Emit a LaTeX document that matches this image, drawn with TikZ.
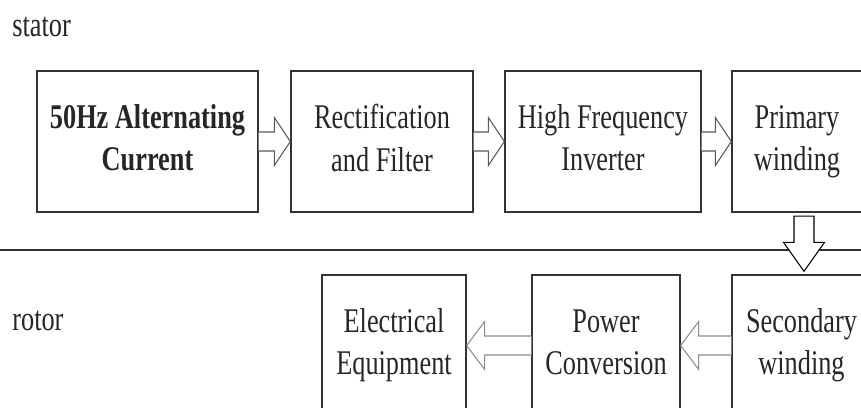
\documentclass[tikz,border=0pt]{standalone}
\usepackage{fontspec}
\setmainfont[FakeStretch=0.76]{Liberation Serif}
\usetikzlibrary{calc}

% hollow block arrows between boxes
\newcommand{\rarrow}[2]{%
  \draw[hollow] ($(#1.east)+(0,-9.5)$) -- ($(#2.west)+(-16,-9.5)$) -- ($(#2.west)+(-16,-24)$)
    -- (#2.west) -- ($(#2.west)+(-16,24)$) -- ($(#2.west)+(-16,9.5)$) -- ($(#1.east)+(0,9.5)$);}
\newcommand{\larrow}[2]{%
  \draw[hollow, draw=black!45] ($(#1.west)+(0,-9.5)$) -- ($(#2.east)+(18,-9.5)$) -- ($(#2.east)+(18,-24)$)
    -- (#2.east) -- ($(#2.east)+(18,24)$) -- ($(#2.east)+(18,9.5)$) -- ($(#1.west)+(0,9.5)$);}

\begin{document}
\begin{tikzpicture}[x=0.02cm, y=-0.02cm,
    block/.style={draw=black!80, text=black!85, line width=0.8pt, minimum height=2.82cm, align=center, inner sep=0pt,
      font=\fontsize{19.7}{24}\selectfont, execute at end node=\vphantom{g}},
    tag/.style={anchor=base west, inner sep=0pt, text=black!85, font=\fontsize{19.7}{24}\selectfont},
    hollow/.style={draw=black!65, line width=0.6pt, fill=white},
    hollowdn/.style={draw=black, line width=0.6pt, fill=white}
]
\clip (0,0) rectangle (861,407);

\node[tag] (stator) at (12,36) {stator};
\node[tag] (rotor) at (12,330) {rotor};

% stator side
\node[block, minimum width=4.42cm, font=\fontsize{19.7}{24}\selectfont\bfseries] (ac) at (147.5,141.5) {50Hz Alternating\\Current};
\node[block, minimum width=3.64cm] (rf) at (382,141.5) {Rectification\\and Filter};
\node[block, minimum width=3.92cm] (hf) at (603,141.5) {High Frequency\\Inverter};
\node[block, minimum width=2.6cm] (pw) at (797,141.5) {Primary\\winding};

% rotor side
\node[block, minimum width=2.88cm] (ee) at (394,345.5) {Electrical\\Equipment};
\node[block, minimum width=2.96cm] (pc) at (606,345.5) {Power\\Conversion};
\node[block, minimum width=2.78cm] (sw) at (801.5,345.5) {Secondary\\winding};

\draw[black!80, line width=0.8pt] (0,250) -- (861,250);

\rarrow{ac}{rf}
\rarrow{rf}{hf}
\rarrow{hf}{pw}
\larrow{sw}{pc}
\larrow{pc}{ee}

\coordinate (dtop) at ($(sw.north |- pw.south)+(2.5,3.5)$);
\coordinate (dtip) at ($(sw.north)+(2.5,-3)$);
\draw[hollowdn] ($(dtop)+(-10,0)$) -- ($(dtip)+(-10,-29)$) -- ($(dtip)+(-20.5,-29)$) -- (dtip)
  -- ($(dtip)+(20.5,-29)$) -- ($(dtip)+(10,-29)$) -- ($(dtop)+(10,0)$) -- cycle;
\end{tikzpicture}
\end{document}
